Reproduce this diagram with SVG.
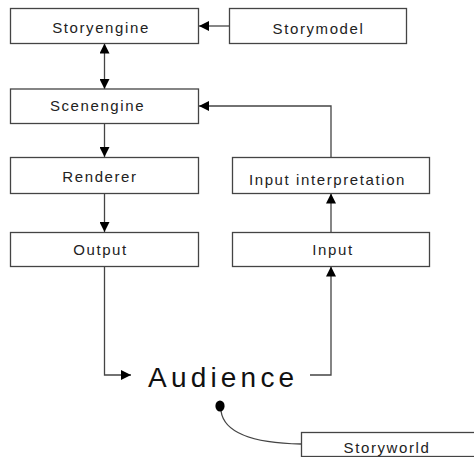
<svg xmlns="http://www.w3.org/2000/svg" width="474" height="457" viewBox="0 0 474 457">
<defs>
<style>
.box{fill:#fff;stroke:#444;stroke-width:1.3}
.lbl{font-family:"Liberation Sans",Arial,sans-serif;font-size:15px;letter-spacing:1.6px;fill:#222;text-anchor:middle}
.big{font-family:"Liberation Sans",Arial,sans-serif;font-size:28px;letter-spacing:4.2px;fill:#111}
.con{fill:none;stroke:#444;stroke-width:1.3}
</style>
<marker id="ah" viewBox="0 0 10 10" refX="10" refY="5" markerWidth="10" markerHeight="10" markerUnits="userSpaceOnUse" orient="auto-start-reverse">
<path d="M0,0 L10,5 L0,10 Z" fill="#000"/>
</marker>
</defs>
<rect width="474" height="457" fill="#fff"/>
<g id="connectors">
<line class="con" x1="229" y1="26" x2="199" y2="26" marker-end="url(#ah)"/>
<line class="con" x1="104.5" y1="43.5" x2="104.5" y2="89" marker-start="url(#ah)" marker-end="url(#ah)"/>
<line class="con" x1="104.5" y1="123.5" x2="104.5" y2="157" marker-end="url(#ah)"/>
<line class="con" x1="104.5" y1="193.5" x2="104.5" y2="232" marker-end="url(#ah)"/>
<polyline class="con" points="331,157 331,106 199,106" marker-end="url(#ah)"/>
<line class="con" x1="331" y1="232" x2="331" y2="193.5" marker-end="url(#ah)"/>
<polyline class="con" points="104.5,266.5 104.5,375 131,375" marker-end="url(#ah)"/>
<polyline class="con" points="310,375 331,375 331,266.5" marker-end="url(#ah)"/>
<path class="con" d="M221,411 C224,432 250,443 301,444"/>
</g>
<g id="storyengine"><rect class="box" x="10.5" y="8.5" width="188" height="35"/><text class="lbl" x="101" y="32.5">Storyengine</text></g>
<g id="storymodel"><rect class="box" x="229.5" y="8.5" width="177" height="35"/><text class="lbl" x="318.5" y="33.5">Storymodel</text></g>
<g id="scenengine"><rect class="box" x="10.5" y="89" width="188" height="34.5"/><text class="lbl" x="97.5" y="111">Scenengine</text></g>
<g id="renderer"><rect class="box" x="10.5" y="157.5" width="188" height="36"/><text class="lbl" x="100" y="182">Renderer</text></g>
<g id="inputinterpretation"><rect class="box" x="232.5" y="157.5" width="197" height="36"/><text class="lbl" x="327.5" y="184.5">Input interpretation</text></g>
<g id="output"><rect class="box" x="10.5" y="232.5" width="188" height="34"/><text class="lbl" x="100.5" y="254.5">Output</text></g>
<g id="input"><rect class="box" x="232.5" y="232.5" width="197" height="34"/><text class="lbl" x="333" y="254.5">Input</text></g>
<g id="audience"><text class="big" x="148" y="386.5">Audience</text><ellipse cx="220" cy="406" rx="4.6" ry="5.6" fill="#000"/></g>
<g id="storyworld"><rect class="box" x="301.5" y="432.5" width="180" height="24"/><text class="lbl" x="387" y="452.5">Storyworld</text></g>
</svg>
